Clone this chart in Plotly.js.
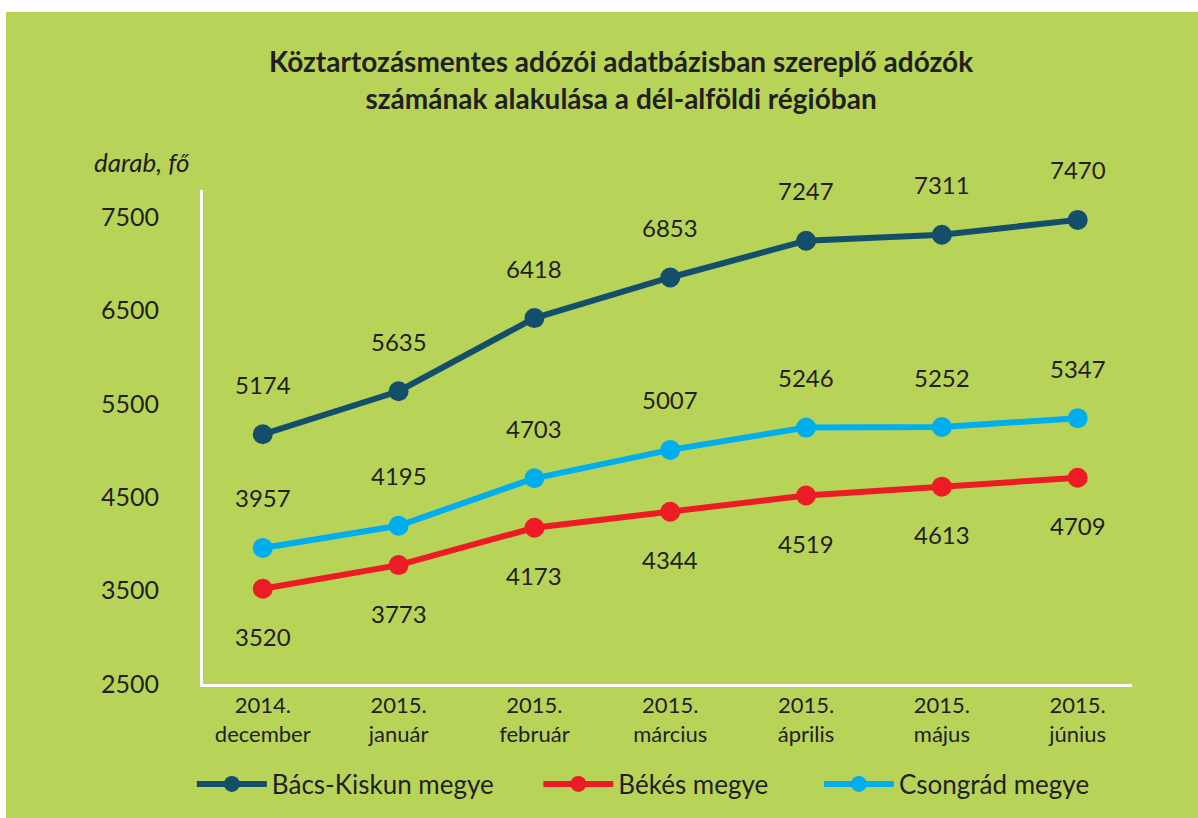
<!DOCTYPE html>
<html>
<head>
<meta charset="utf-8">
<script src="https://cdn.plot.ly/plotly-3.0.1.min.js"></script>
<style>
html,body{margin:0;padding:0;background:#ffffff;}
#chart{position:absolute;left:6px;top:12px;width:1192px;height:806px;}
</style>
</head>
<body>
<div id="chart"></div>
<script>
const categories = ["2014.<br>december","2015.<br>január","2015.<br>február","2015.<br>március","2015.<br>április","2015.<br>május","2015.<br>június"];
const bacsKiskun = [5174, 5635, 6418, 6853, 7247, 7311, 7470];
const bekes = [3520, 3773, 4173, 4344, 4519, 4613, 4709];
const csongrad = [3957, 4195, 4703, 5007, 5246, 5252, 5347];
const yTicks = [2500, 3500, 4500, 5500, 6500, 7500];
const seriesNames = ["Bács-Kiskun megye", "Békés megye", "Csongrád megye"];

const FONT = "Lato, 'Open Sans', sans-serif";
const TXT = "#231f20";
const colors = ["#134f6a", "#ed1c24", "#00aeef"];
const seriesData = [bacsKiskun, bekes, csongrad];
const labelShift = [50, -48, 50];
const legendIds = ["legend", "legend2", "legend3"];
const legendX = [-0.012, 0.361, 0.663];

const traces = seriesData.map((vals, k) => ({
  type: "scatter",
  mode: "lines+markers",
  name: seriesNames[k],
  legend: legendIds[k],
  x: categories,
  y: vals,
  line: {color: colors[k], width: 6},
  marker: {color: colors[k], size: 20},
  hoverinfo: "skip"
}));

const annotations = [];
seriesData.forEach((vals, k) => {
  vals.forEach((v, i) => {
    annotations.push({
      x: categories[i], y: v, xref: "x", yref: "y",
      text: String(v), showarrow: false, yshift: labelShift[k],
      font: {family: FONT, size: 24, color: TXT}
    });
  });
});
annotations.push({
  xref: "paper", yref: "paper", x: -0.012, y: 1.02, xanchor: "right", yanchor: "bottom",
  text: "<i>darab, fő</i>", showarrow: false,
  font: {family: FONT, size: 26, color: TXT}
});

const layout = {
  width: 1192, height: 806,
  paper_bgcolor: "#b8d458",
  plot_bgcolor: "rgba(0,0,0,0)",
  margin: {l: 197, r: 66, t: 178, b: 133},
  title: {
    text: "<b>Köztartozásmentes adózói adatbázisban szereplő adózók<br>számának alakulása a dél-alföldi régióban</b>",
    x: 0.516, xanchor: "center", xref: "container",
    y: 0.925, yanchor: "top", yref: "container",
    font: {family: FONT, size: 28, color: TXT}
  },
  xaxis: {
    type: "category",
    range: [-0.44, 6.4],
    showline: true, linecolor: "#ffffff", linewidth: 3,
    showgrid: false, zeroline: false, ticks: "",
    ticklabelstandoff: 0,
    tickfont: {family: FONT, size: 22, color: TXT},
    fixedrange: true
  },
  yaxis: {
    range: [2500, 7790],
    tickvals: yTicks,
    ticktext: yTicks.map(String),
    showline: true, linecolor: "#ffffff", linewidth: 3,
    showgrid: false, zeroline: false, ticks: "",
    ticklabelstandoff: 36,
    tickfont: {family: FONT, size: 25, color: TXT},
    fixedrange: true
  },
  showlegend: true,
  annotations: annotations
};

legendIds.forEach((id, k) => {
  layout[id] = {
    orientation: "h",
    x: legendX[k], xanchor: "left",
    y: -0.2, yanchor: "middle",
    font: {family: FONT, size: 26, color: TXT},
    bgcolor: "rgba(0,0,0,0)",
    itemwidth: 70
  };
});

Plotly.newPlot("chart", traces, layout, {displayModeBar: false, staticPlot: true});
</script>
</body>
</html>
